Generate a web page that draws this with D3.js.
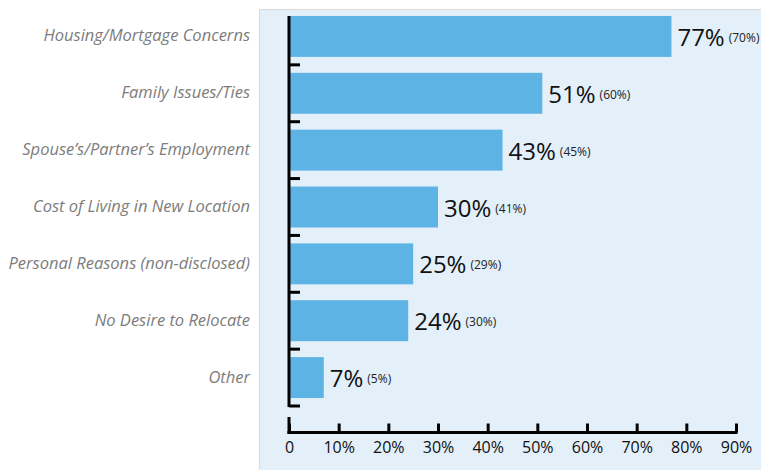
<!DOCTYPE html>
<html>
<head>
<meta charset="utf-8">
<script src="https://cdn.jsdelivr.net/npm/d3@7"></script>
<style>
    body { margin: 0; background: #fff; }
    svg { display: block; font-family: 'Open Sans', sans-serif; }
    .cat-label { fill: #7c7c7c; font-style: italic; font-size: 16.5px; }
    .x-axis text { fill: #111; font-size: 16px; }
</style>
</head>
<body>
<div id="chart"></div>
<script>
(function() {
    'use strict';

    var categories = [
        'Housing/Mortgage Concerns',
        'Family Issues/Ties',
        'Spouse\u2019s/Partner\u2019s Employment',
        'Cost of Living in New Location',
        'Personal Reasons (non-disclosed)',
        'No Desire to Relocate',
        'Other'
    ];
    var current = [77, 51, 43, 30, 25, 24, 7];
    var previous = [70, 60, 45, 41, 29, 30, 5];
    var xTicks = [0, 10, 20, 30, 40, 50, 60, 70, 80, 90];

    var width = 761, height = 470;

    var svg = d3.select('#chart').append('svg')
        .attr('width', width)
        .attr('height', height);

    // light blue panel behind the plot
    svg.append('rect')
        .attr('x', 259.5)
        .attr('y', 9.5)
        .attr('width', 520)
        .attr('height', 480)
        .attr('fill', '#e3eff9')
        .attr('stroke', '#dcdcdc')
        .attr('stroke-width', 1.2);

    var x = d3.scaleLinear().domain([0, 90]).range([289, 736]);
    var y = d3.scaleBand()
        .domain(categories)
        .range([8, 406])
        .paddingInner(0.28)
        .paddingOuter(0.14);

    var rows = categories.map(function(c, i) {
        return {cat: c, val: current[i], prev: previous[i]};
    });

    // bars
    svg.append('g').selectAll('rect')
        .data(rows)
        .enter()
        .append('rect')
        .attr('x', x(0))
        .attr('y', function(d) { return y(d.cat); })
        .attr('width', function(d) { return x(d.val) - x(0); })
        .attr('height', y.bandwidth())
        .attr('fill', '#5db3e4');

    // value labels: this year big, last year small in brackets
    var vals = svg.append('g').selectAll('text')
        .data(rows)
        .enter()
        .append('text')
        .attr('x', function(d) { return x(d.val) + 6; })
        .attr('y', function(d) { return y(d.cat) + y.bandwidth() / 2 + 9.5; })
        .attr('fill', '#111');
    vals.append('tspan')
        .attr('font-size', '24px')
        .text(function(d) { return d.val + '%'; });
    vals.append('tspan')
        .attr('font-size', '12px')
        .attr('dx', 4)
        .attr('dy', -4)
        .attr('fill', '#222')
        .text(function(d) { return '(' + d.prev + '%)'; });

    // category labels
    svg.append('g').selectAll('text')
        .data(rows)
        .enter()
        .append('text')
        .attr('class', 'cat-label')
        .attr('x', 250)
        .attr('y', function(d) { return y(d.cat) + y.bandwidth() / 2 + 5; })
        .attr('text-anchor', 'end')
        .text(function(d) { return d.cat; });

    // vertical axis line (small break near the bottom) and band ticks
    var axisBottomY = 432.5;
    var yAxis = svg.append('g').attr('stroke', '#000').attr('stroke-width', 3);
    yAxis.append('line')
        .attr('x1', x(0)).attr('x2', x(0))
        .attr('y1', y(categories[0]))
        .attr('y2', y.range()[1] + 1);
    yAxis.append('line')
        .attr('x1', x(0)).attr('x2', x(0))
        .attr('y1', y.range()[1] + 11)
        .attr('y2', axisBottomY + 1.5);
    yAxis.selectAll('.ytick')
        .data(categories)
        .enter()
        .append('line')
        .attr('class', 'ytick')
        .attr('x1', x(0))
        .attr('x2', x(0) + 11)
        .attr('y1', function(d) { return y(d) + y.bandwidth() + y.step() * y.paddingInner() / 2; })
        .attr('y2', function(d) { return y(d) + y.bandwidth() + y.step() * y.paddingInner() / 2; });

    // bottom axis
    var xAxis = d3.axisBottom(x)
        .tickValues(xTicks)
        .tickFormat(function(d) { return d === 0 ? '0' : d + '%'; })
        .tickSizeInner(-9)
        .tickSizeOuter(0)
        .tickPadding(9);

    var gx = svg.append('g')
        .attr('class', 'x-axis')
        .attr('transform', 'translate(0,' + axisBottomY + ')')
        .call(xAxis);
    gx.select('.domain').attr('stroke', '#000').attr('stroke-width', 3)
        .attr('d', 'M' + (x(0) - 1.5) + ',0H' + (x(90) + 1.5));
    gx.selectAll('.tick line').attr('stroke', '#000').attr('stroke-width', 3);
    gx.selectAll('.tick text').attr('font-family', 'Open Sans, sans-serif');
})();
</script>
</body>
</html>
